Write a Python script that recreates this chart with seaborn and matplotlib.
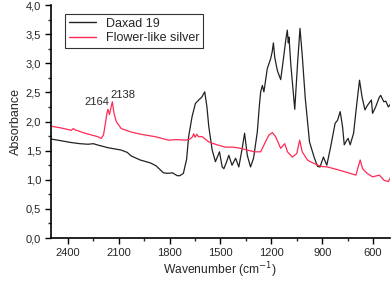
import matplotlib
matplotlib.use("Agg")
import matplotlib.pyplot as plt
from matplotlib.ticker import MultipleLocator, FuncFormatter
import numpy as np
import pandas as pd
import seaborn as sns

# --- dados (numero de onda em cm-1, absorbancia) ---
daxad_x = [2500, 2440, 2382, 2330, 2281, 2250, 2228, 2163, 2104, 2086, 2050, 2027,
           1974, 1914, 1880, 1837, 1810, 1784, 1755, 1740, 1719, 1700, 1688, 1668,
           1648, 1625, 1610, 1593, 1580, 1569, 1549, 1530, 1506, 1490, 1480, 1465,
           1451, 1432, 1411, 1392, 1372, 1358, 1342, 1323, 1305, 1283, 1270, 1263,
           1253, 1244, 1224, 1204, 1195, 1188, 1180, 1165, 1145, 1130, 1115, 1106,
           1100, 1096, 1085, 1062, 1045, 1031, 1018, 1000, 975, 948, 928, 913, 893,
           873, 850, 824, 810, 794, 780, 770, 755, 747, 735, 715, 696, 680, 665, 648,
           635, 620, 610, 603, 585, 563, 555, 537, 525, 510, 495]
daxad_y = [1.70, 1.67, 1.64, 1.62, 1.61, 1.62, 1.60, 1.55, 1.52, 1.51, 1.47, 1.41,
           1.34, 1.29, 1.24, 1.12, 1.11, 1.12, 1.07, 1.07, 1.11, 1.35, 1.74, 2.08,
           2.31, 2.38, 2.42, 2.51, 2.25, 1.91, 1.51, 1.31, 1.48, 1.22, 1.19, 1.30,
           1.42, 1.25, 1.37, 1.22, 1.54, 1.80, 1.42, 1.22, 1.37, 1.82, 2.30, 2.51,
           2.62, 2.51, 2.91, 3.08, 3.20, 3.35, 3.10, 2.88, 2.72, 3.05, 3.40, 3.57,
           3.35, 3.45, 2.97, 2.21, 3.02, 3.60, 3.14, 2.40, 1.65, 1.39, 1.23, 1.22, 1.39,
           1.25, 1.57, 1.97, 2.02, 2.17, 1.91, 1.60, 1.68, 1.71, 1.60, 1.80, 2.31, 2.71,
           2.42, 2.20, 2.27, 2.33, 2.37, 2.14, 2.25, 2.42, 2.45, 2.34, 2.35, 2.25, 2.31]

prata_x = [2500, 2440, 2380, 2368, 2360, 2300, 2224, 2204, 2190, 2180, 2170, 2164,
           2155, 2145, 2138, 2128, 2115, 2086, 2027, 1967, 1885, 1806, 1760, 1707,
           1680, 1665, 1658, 1650, 1640, 1630, 1608, 1569, 1520, 1470, 1421, 1382,
           1342, 1300, 1263, 1235, 1214, 1194, 1175, 1145, 1121, 1105, 1076, 1050,
           1033, 1018, 987, 970, 948, 909, 870, 830, 770, 735, 701, 690, 676, 662, 635,
           603, 563, 535, 510, 495]
prata_y = [1.92, 1.89, 1.85, 1.88, 1.86, 1.80, 1.74, 1.71, 1.77, 1.95, 2.14, 2.21,
           2.12, 2.25, 2.34, 2.14, 2.00, 1.88, 1.82, 1.78, 1.74, 1.68, 1.69, 1.68,
           1.70, 1.74, 1.79, 1.73, 1.78, 1.74, 1.74, 1.65, 1.60, 1.56, 1.56, 1.54,
           1.51, 1.48, 1.48, 1.65, 1.77, 1.81, 1.74, 1.54, 1.62, 1.48, 1.39, 1.45,
           1.68, 1.48, 1.34, 1.31, 1.28, 1.23, 1.22, 1.19, 1.14, 1.11, 1.08, 1.20, 1.34,
           1.19, 1.11, 1.05, 1.08, 0.99, 0.97, 1.05]

series = ["Daxad 19", "Flower-like silver"]
cores = ["#222222", "#ff2a55"]

picos_txt = ["2164", "2138"]
picos_pos = [(2228, 2.33), (2074, 2.45)]

df = pd.concat([
    pd.DataFrame({"x": daxad_x, "y": daxad_y, "amostra": series[0]}),
    pd.DataFrame({"x": prata_x, "y": prata_y, "amostra": series[1]}),
], ignore_index=True)

sns.set_style("ticks")
plt.rcParams["font.family"] = ["Liberation Sans", "DejaVu Sans"]

fig = plt.figure(figsize=(3.92, 2.82), dpi=100)
ax = fig.add_axes([0.130, 0.156, 0.865, 0.826])

sns.lineplot(data=df, x="x", y="y", hue="amostra", palette=cores,
             estimator=None, sort=False, linewidth=0.9, ax=ax)

for txt, (px, py) in zip(picos_txt, picos_pos):
    ax.text(px, py, txt, fontsize=8, ha="center", va="center")

ax.set_xlim(2500, 500)
ax.set_ylim(0, 4.0)
ax.xaxis.set_major_locator(MultipleLocator(300))
ax.xaxis.set_minor_locator(MultipleLocator(150))
ax.yaxis.set_major_locator(MultipleLocator(0.5))
ax.yaxis.set_minor_locator(MultipleLocator(0.25))
ax.yaxis.set_major_formatter(FuncFormatter(lambda v, p: f"{v:.1f}".replace(".", ",")))
ax.tick_params(axis="both", which="major", labelsize=8, length=4, width=1,
               direction="out", color="black", pad=3)
ax.tick_params(axis="both", which="minor", length=2.5, width=1, direction="out")

for lado in ["top", "right"]:
    ax.spines[lado].set_visible(False)
for lado in ["left", "bottom"]:
    ax.spines[lado].set_linewidth(1.2)
    ax.spines[lado].set_color("black")

ax.set_xlabel("Wavenumber (cm$^{-1}$)", fontsize=8.7, labelpad=2)
ax.set_ylabel("Absorbance", fontsize=9, labelpad=3)

leg = ax.legend(loc="upper left", bbox_to_anchor=(0.041, 0.962), fontsize=9,
                frameon=True, fancybox=False, edgecolor="black", borderaxespad=0,
                handlelength=2.2, borderpad=0.3, labelspacing=0.2)
leg.get_frame().set_linewidth(0.8)
for linha in leg.get_lines():
    linha.set_linewidth(1.0)

fig.savefig("out.png", dpi=100)
